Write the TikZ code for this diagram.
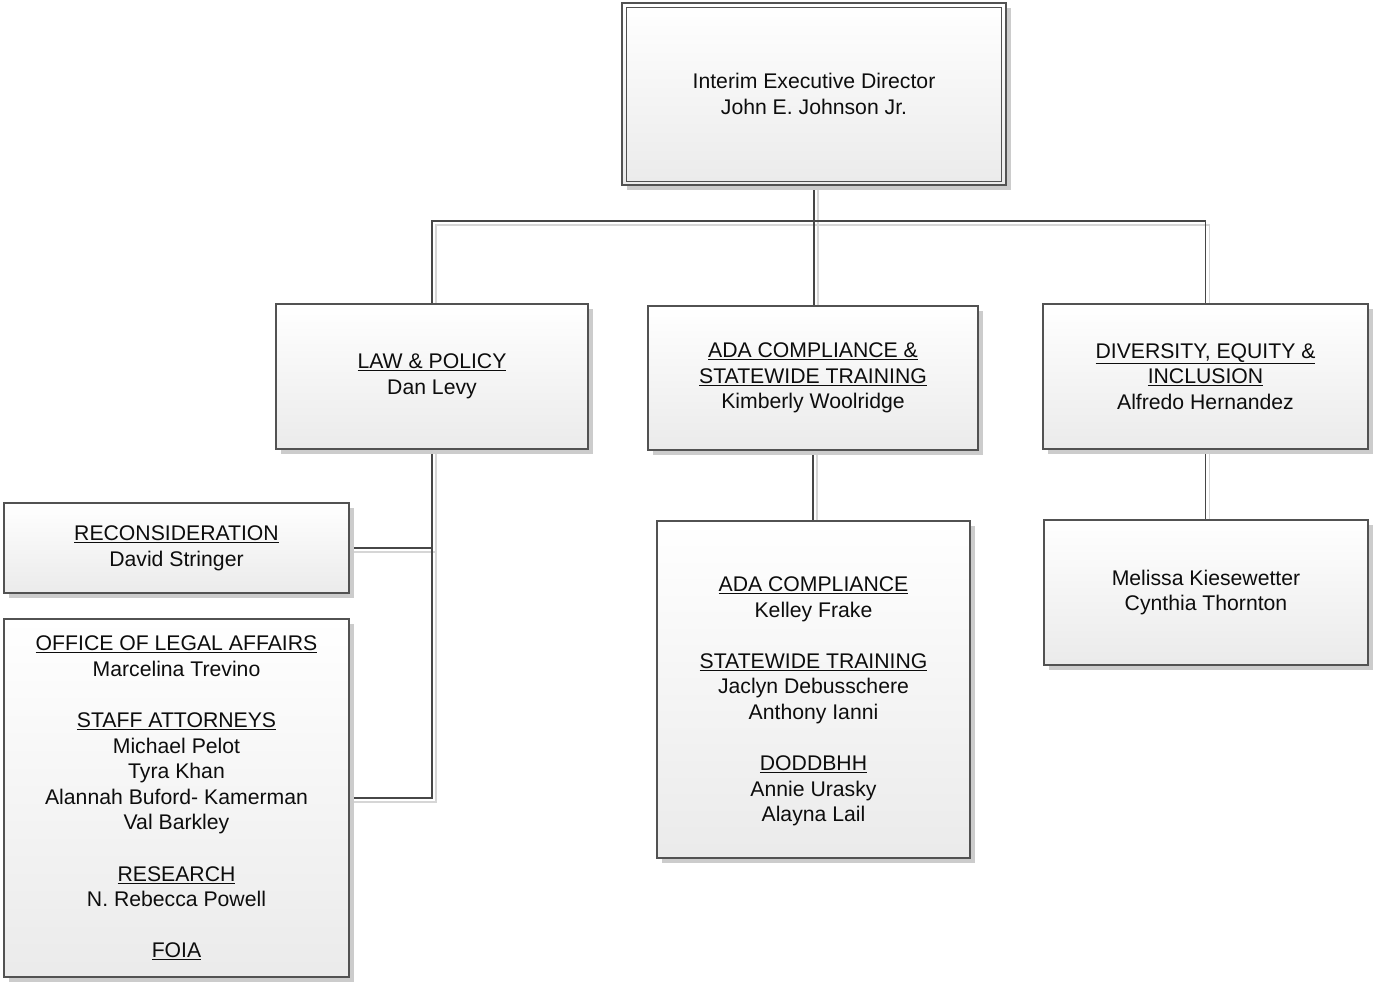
\documentclass[tikz,border=0pt]{standalone}
\usepackage{fontspec}
\setmainfont{Liberation Sans}
\usetikzlibrary{shadows,backgrounds,calc}
\begin{document}
\begin{tikzpicture}[x=1pt,y=-1pt,
  box/.style={draw=black!68, line width=1.1pt, top color=white, bottom color=black!8,
    drop shadow={shadow xshift=5pt, shadow yshift=-5pt, fill=black!20, opacity=1},
    align=center, inner sep=0pt, text=black!95,
    font=\fontsize{21.2}{25.6}\selectfont},
  conn/.style={draw=black!72, line width=1.3pt,
    preaction={draw=black!16, line width=1.6pt, transform canvas={xshift=4pt,yshift=-4pt}}}]
\useasboundingbox (0,0) rectangle (1374,982);

\node[box, minimum width=384, minimum height=182] (top) at (814,94)
  {Interim Executive Director\\John E. Johnson Jr.};
\draw[black!68, line width=1.1pt] ([shift={(5,5)}]top.north west) rectangle ([shift={(-5,-4)}]top.south east);

\node[box, minimum width=312, minimum height=145] (law) at (432,376.5)
  {\underline{LAW \& POLICY}\\Dan Levy};
\node[box, minimum width=330, minimum height=144] (ada) at (813,378)
  {\underline{ADA COMPLIANCE \&}\\\underline{STATEWIDE TRAINING}\\Kimberly Woolridge};
\node[box, minimum width=325, minimum height=145] (dei) at (1205.5,376.5)
  {\underline{DIVERSITY, EQUITY \&}\\\underline{INCLUSION}\\Alfredo Hernandez};

\node[box, minimum width=345, minimum height=90] (recon) at (176.5,548)
  {\underline{RECONSIDERATION}\\David Stringer};
\node[box, minimum width=345, minimum height=358] (ola) at (176.5,798)
  {\underline{OFFICE OF LEGAL AFFAIRS}\\Marcelina Trevino\\[25.6pt]
   \underline{STAFF ATTORNEYS}\\Michael Pelot\\Tyra Khan\\Alannah Buford- Kamerman\\Val Barkley\\[25.6pt]
   \underline{RESEARCH}\\N. Rebecca Powell\\[25.6pt]
   \underline{FOIA}};

\node[box, minimum width=313, minimum height=337] (adasub) at (813.5,689.5)
  {\mbox{}\\[13pt]\underline{ADA COMPLIANCE}\\Kelley Frake\\[25.6pt]
   \underline{STATEWIDE TRAINING}\\Jaclyn Debusschere\\Anthony Ianni\\[25.6pt]
   \underline{DODDBHH}\\Annie Urasky\\Alayna Lail};
\node[box, minimum width=324, minimum height=145] (deisub) at (1206,592.5)
  {Melissa Kiesewetter\\Cynthia Thornton};

\coordinate (bus) at (814,221);

\begin{scope}[on background layer]
\draw[conn] (top.south) -- (bus);
\draw[conn] (law.north) |- (bus) -| (dei.north);
\draw[conn] (bus) -- (bus |- ada.north);
\draw[conn] (law.south) |- (recon.east);
\draw[conn] (law.south) |- (ola.east);
\draw[conn] (ada.south) -- (ada.south |- adasub.north);
\draw[conn] (dei.south) -- (dei.south |- deisub.north);
\end{scope}
\end{tikzpicture}
\end{document}
